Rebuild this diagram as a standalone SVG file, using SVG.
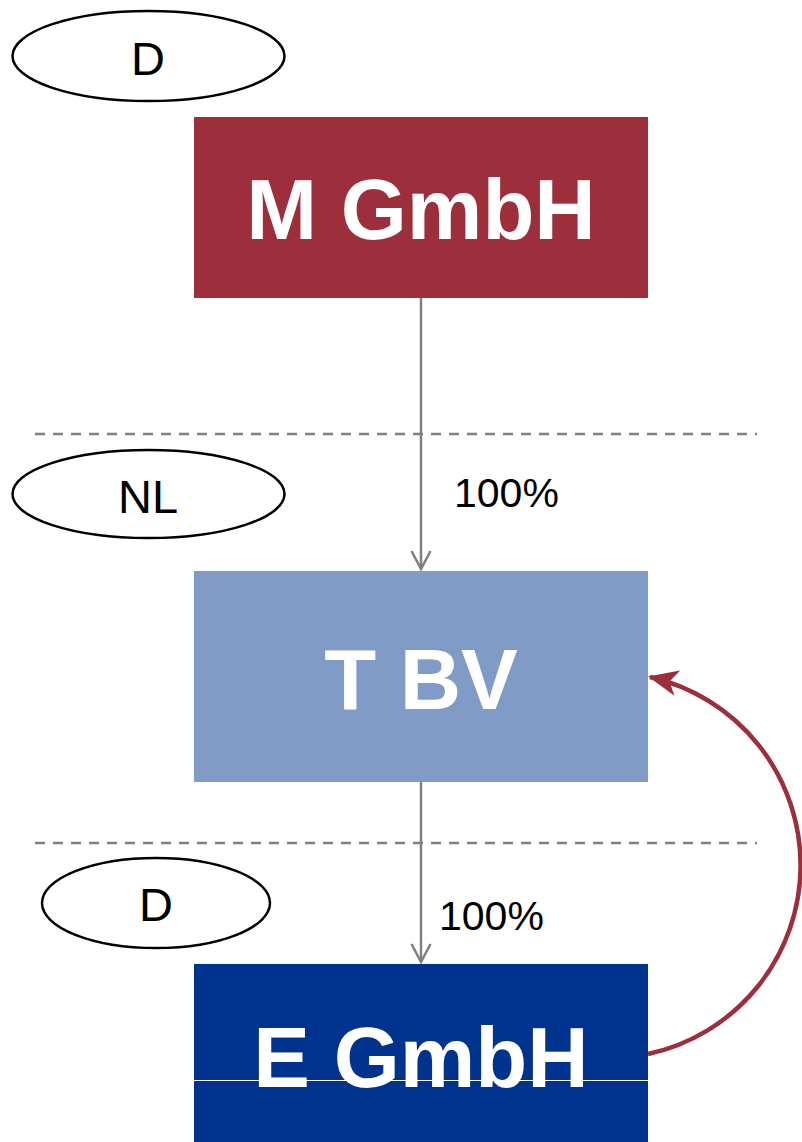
<svg xmlns="http://www.w3.org/2000/svg" width="802" height="1142" viewBox="0 0 802 1142">
  <defs>
    <style>
      .box-label { font-family: "Liberation Sans", Arial, sans-serif; font-weight: bold; font-size: 85px; fill: #ffffff; text-anchor: middle; }
      .region { fill: #ffffff; stroke: #000000; stroke-width: 2.5; }
      .region-label { font-family: "Liberation Sans", Arial, sans-serif; font-size: 47px; fill: #000000; text-anchor: middle; }
      .share { font-family: "Liberation Sans", Arial, sans-serif; font-size: 41px; fill: #000000; }
      .border { stroke: #808080; stroke-width: 2.5; stroke-dasharray: 10 8; fill: none; }
      .own { stroke: #808080; stroke-width: 2.5; fill: none; }
      .flow { stroke: #9c2f3b; stroke-width: 4.5; fill: none; }
    </style>
    <marker id="redHead" viewBox="0 0 30 26" refX="28" refY="13" markerWidth="30" markerHeight="26" markerUnits="userSpaceOnUse" orient="auto">
      <path d="M0 0 L30 13 L0 26 L8 13 Z" fill="#9c2f3b"/>
    </marker>
  </defs>

  <rect width="802" height="1142" fill="#ffffff"/>

  <!-- country borders -->
  <g id="borders">
    <line class="border" x1="35" y1="434" x2="757" y2="434"/>
    <line class="border" x1="35" y1="843" x2="757" y2="843"/>
  </g>

  <!-- country tags -->
  <g id="tag-d-top">
    <ellipse class="region" cx="148.5" cy="56" rx="136" ry="45"/>
    <text class="region-label" x="148" y="75">D</text>
  </g>
  <g id="tag-nl">
    <ellipse class="region" cx="148.5" cy="494" rx="136" ry="44"/>
    <text class="region-label" x="148" y="513">NL</text>
  </g>
  <g id="tag-d-bottom">
    <ellipse class="region" cx="156" cy="903" rx="114" ry="45"/>
    <text class="region-label" x="156" y="921">D</text>
  </g>

  <!-- companies -->
  <g id="m-gmbh">
    <rect x="194" y="117" width="454" height="181" fill="#9c2f3b"/>
    <text class="box-label" x="421" y="239">M GmbH</text>
  </g>
  <g id="t-bv">
    <rect x="194" y="571" width="454" height="211" fill="#819bc7"/>
    <text class="box-label" x="421" y="709">T BV</text>
  </g>
  <g id="e-gmbh">
    <rect x="194" y="964" width="454" height="178" fill="#00338d"/>
    <text class="box-label" x="421" y="1087">E GmbH</text>
    <line x1="194" y1="1080.5" x2="648" y2="1080.5" stroke="#ffffff" stroke-width="1"/>
  </g>

  <!-- connectors -->
  <g id="connectors">
    <line class="own" x1="421" y1="298" x2="421" y2="569"/>
    <polyline class="own" points="411.5,551 421,569 430.5,551"/>
    <text class="share" x="454" y="507">100%</text>

    <line class="own" x1="421" y1="782" x2="421" y2="962"/>
    <polyline class="own" points="411.5,944 421,962 430.5,944"/>
    <text class="share" x="439" y="930">100%</text>

    <path class="flow" d="M648 1054 A193 193 0 0 0 650 677" marker-end="url(#redHead)"/>
  </g>
</svg>
